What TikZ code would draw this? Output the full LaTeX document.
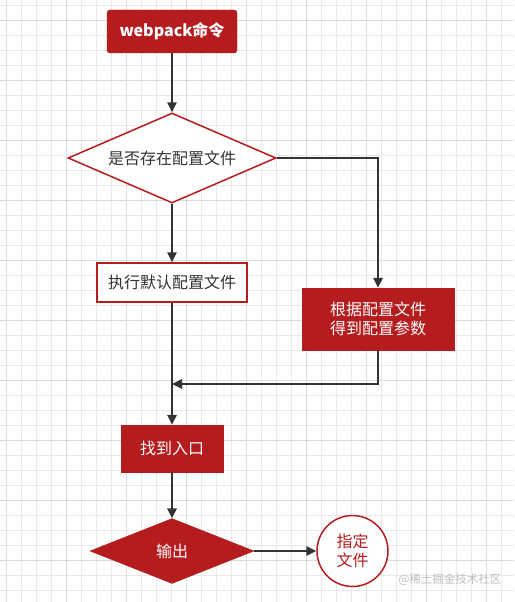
\documentclass[tikz,border=0pt]{standalone}
\usepackage{fontspec}
\setmainfont{Noto Sans CJK SC}
\usetikzlibrary{shapes.geometric,arrows.meta}
\definecolor{dred}{RGB}{180,28,30}
\definecolor{ink}{RGB}{51,51,51}
\definecolor{gridminor}{RGB}{233,233,233}
\definecolor{gridmajor}{RGB}{220,220,220}
\definecolor{wm}{RGB}{190,190,190}
\tikzset{
  redbox/.style={rectangle, fill=dred, draw=dred, text=white, inner sep=0pt, font=\fontsize{16}{19.5}\selectfont, align=center},
  whitebox/.style={rectangle, fill=white, draw=dred, line width=1.5pt, text=ink, inner sep=0pt, font=\fontsize{16}{19.5}\selectfont, align=center},
  reddiamond/.style={diamond, fill=dred, draw=dred, text=white, inner sep=0pt, font=\fontsize{16}{19.5}\selectfont},
  whitediamond/.style={diamond, fill=white, draw=dred, line width=1.5pt, text=ink, inner sep=0pt, font=\fontsize{16}{19.5}\selectfont},
  endcircle/.style={circle, fill=white, draw=dred, line width=1.5pt, text=dred, inner sep=0pt, minimum size=71pt, font=\fontsize{16}{19.5}\selectfont, align=center},
  conn/.style={draw=ink, line width=1.6pt, -{Triangle[length=10pt,width=9.5pt]}},
}
\begin{document}
\begin{tikzpicture}[x=1pt,y=-1pt]
\useasboundingbox (0,0) rectangle (514,602);
\fill[white] (0,0) rectangle (514,602);
% grid
\foreach \i in {0,...,34} {
  \draw[gridminor, line width=0.8pt] ({6.7+15*\i},0) -- ({6.7+15*\i},602);
}
\foreach \i in {0,...,40} {
  \draw[gridminor, line width=0.8pt] (0,{5+15*\i}) -- (514,{5+15*\i});
}
\foreach \i in {0,...,8} {
  \draw[gridmajor, line width=0.8pt] ({6.7+60*\i},0) -- ({6.7+60*\i},602);
}
\foreach \i in {0,...,9} {
  \draw[gridmajor, line width=0.8pt] (0,{20+60*\i}) -- (514,{20+60*\i});
}

% nodes
\node[redbox, rounded corners=3pt, minimum width=130pt, minimum height=43pt, font=\bfseries\fontsize{16}{19.5}\selectfont] (cmd) at (172,31.5) {webpack命令};
\node[whitediamond, aspect=2.31, minimum width=208pt, minimum height=90pt] (d1) at (172,158) {是否存在配置文件};
\node[whitebox, minimum width=150pt, minimum height=39pt] (b1) at (172,282.5) {执行默认配置文件};
\node[redbox, minimum width=152pt, minimum height=62pt] (b2) at (378,319) {根据配置文件\\得到配置参数};
\coordinate (j) at (172,384);
\node[redbox, minimum width=102pt, minimum height=47pt] (fnd) at (172,448.5) {找到入口};
\node[reddiamond, aspect=2.52, minimum width=164pt, minimum height=65pt] (d2) at (172,551) {输出};
\node[endcircle] (c) at (352.5,551) {指定\\文件};
\node[text=wm, font=\fontsize{11.5}{13}\selectfont, inner sep=0pt] (wmk) at (450,580) {@稀土掘金技术社区};

% connectors
\draw[conn] (cmd.south) -- (d1.north);
\draw[conn] (d1.east) -| (b2.north);
\draw[conn] (d1.south) -- (b1.north);
\draw[conn] (b1.south) -- (fnd.north);
\draw[conn] (b2.south) |- (j);
\draw[conn] (fnd.south) -- (d2.north);
\draw[conn] (d2.east) -- (c.west);
\end{tikzpicture}
\end{document}
